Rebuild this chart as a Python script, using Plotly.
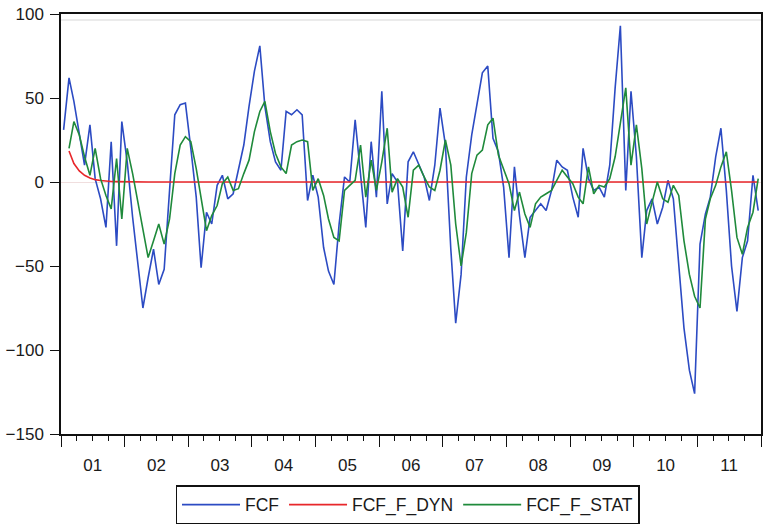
import pandas as pd
import plotly.graph_objects as go

# Monthly observations, 2001M01 - 2011M12
start_month = "2001-01-01"
n_obs = 132

# Actual series
fcf = [
    31, 62, 48, 28, 10, 34, 2, -10, -27, 24, -38, 36,          # 2001
    12, -21, -47, -75, -57, -40, -61, -52, -5, 40, 46, 47,     # 2002
    20, -9, -51, -18, -25, -2, 4, -10, -7, 8, 22, 45,          # 2003
    66, 81, 45, 24, 12, 7, 42, 40, 43, 40, -11, 4,             # 2004
    -9, -39, -53, -61, -25, 3, 0, 37, 5, -27, 24, -9,          # 2005
    54, -13, 5, 0, -41, 12, 18, 10, 3, -11, 10, 44,            # 2006
    22, -40, -84, -55, 3, 28, 46, 65, 69, 26, 18, -3,          # 2007
    -45, 9, -20, -45, -21, -17, -13, -17, -5, 13, 9, 7,        # 2008
    -9, -21, 20, 2, -5, -3, -9, 10, 56, 93, -5, 54,            # 2009
    15, -45, -17, -10, -25, -15, 1, -10, -50, -87, -112, -126,  # 2010
    -37, -19, -9, 15, 32, -5, -50, -77, -45, -35, 4, -17,      # 2011
]

# Dynamic forecast
fcf_f_dyn = [
    None, 18.5, 11.0, 6.6, 4.0, 2.4, 1.4, 0.9, 0.5, 0.3, 0.2, 0.1,
    0.1, 0.0, 0.0, 0.0, 0.0, 0.0, 0.0, 0.0, 0.0, 0.0, 0.0, 0.0,
    0.0, 0.0, 0.0, 0.0, 0.0, 0.0, 0.0, 0.0, 0.0, 0.0, 0.0, 0.0,
    0.0, 0.0, 0.0, 0.0, 0.0, 0.0, 0.0, 0.0, 0.0, 0.0, 0.0, 0.0,
    0.0, 0.0, 0.0, 0.0, 0.0, 0.0, 0.0, 0.0, 0.0, 0.0, 0.0, 0.0,
    0.0, 0.0, 0.0, 0.0, 0.0, 0.0, 0.0, 0.0, 0.0, 0.0, 0.0, 0.0,
    0.0, 0.0, 0.0, 0.0, 0.0, 0.0, 0.0, 0.0, 0.0, 0.0, 0.0, 0.0,
    0.0, 0.0, 0.0, 0.0, 0.0, 0.0, 0.0, 0.0, 0.0, 0.0, 0.0, 0.0,
    0.0, 0.0, 0.0, 0.0, 0.0, 0.0, 0.0, 0.0, 0.0, 0.0, 0.0, 0.0,
    0.0, 0.0, 0.0, 0.0, 0.0, 0.0, 0.0, 0.0, 0.0, 0.0, 0.0, 0.0,
    0.0, 0.0, 0.0, 0.0, 0.0, 0.0, 0.0, 0.0, 0.0, 0.0, 0.0, 0.0,
]

# Static (one-step-ahead) forecast
fcf_f_stat = [
    None, 20, 36, 28, 15, 4, 20, 2, -8, -16, 14, -22,          # 2001
    20, 5, -10, -27, -45, -35, -25, -37, -22, 5, 22, 27,       # 2002
    24, 8, -10, -29, -20, -14, -1, 3, -5, -4, 5, 13,           # 2003
    30, 42, 48, 30, 17, 9, 5, 22, 24, 25, 24, -5,              # 2004
    2, -8, -22, -33, -35, -5, -2, 1, 22, -9, 13, -5,           # 2005
    12, 32, -6, 2, -3, -21, 7, 10, 3, -3, -5, 7,               # 2006
    25, 10, -25, -50, -30, 5, 16, 19, 34, 38, 16, 8,           # 2007
    -1, -17, -6, -19, -27, -13, -9, -7, -5, 1, 7, 3,           # 2008
    -1, -9, -13, 9, -7, -2, -3, 2, 15, 35, 56, 10,             # 2009
    34, 8, -25, -12, 0, -10, -12, -2, -8, -35, -55, -68,       # 2010
    -75, -22, -10, -2, 9, 18, -5, -33, -43, -27, -18, 2,       # 2011
]

y_ticks = [-150, -100, -50, 0, 50, 100]

# Observations sit in the middle of each monthly period
months = pd.date_range(start_month, periods=n_obs, freq="MS") + pd.Timedelta(days=15)

series = [
    ("FCF", fcf, "#2c4bc3"),
    ("FCF_F_DYN", fcf_f_dyn, "#e8272b"),
    ("FCF_F_STAT", fcf_f_stat, "#1f8a3b"),
]

fig = go.Figure()
for name, values, color in series:
    fig.add_trace(go.Scatter(
        x=months, y=values, name=name, mode="lines",
        line=dict(color=color, width=1.6), connectgaps=False,
    ))

font = "Liberation Sans, Arial, sans-serif"

fig.update_layout(
    width=763, height=527,
    margin=dict(l=61, r=2, t=14, b=93, autoexpand=False),
    paper_bgcolor="white", plot_bgcolor="white",
    font=dict(family=font, size=17, color="#1a1a1a"),
    showlegend=True,
    legend=dict(
        orientation="h", x=0.495, xanchor="center", y=-0.122, yanchor="top",
        bordercolor="#111111", borderwidth=1.5, bgcolor="white",
        font=dict(family=font, size=17.5, color="#1a1a1a"),
        itemwidth=58, tracegroupgap=0,
    ),
    xaxis=dict(
        type="date",
        range=["2001-01-01", "2012-01-01"],
        dtick="M12", tick0="2001-01-01",
        tickformat="%y", ticklabelmode="period",
        ticks="outside", ticklen=11, tickwidth=1.2, tickcolor="#111111",
        ticklabelstandoff=4,
        minor=dict(ticks="outside", dtick="M3", ticklen=5, tickcolor="#111111", tickwidth=1),
        showline=True, linecolor="#111111", linewidth=1.5, mirror=True,
        showgrid=False, zeroline=False,
        tickfont=dict(size=17),
    ),
    yaxis=dict(
        range=[-150, 100], tickvals=y_ticks,
        ticks="outside", ticklen=9, tickwidth=1.2, tickcolor="#111111",
        ticklabelstandoff=3,
        showline=True, linecolor="#111111", linewidth=1.5, mirror=True,
        showgrid=False, zeroline=True, zerolinecolor="#f0dede", zerolinewidth=1,
        tickfont=dict(size=17),
    ),
)

# faint inner rule just below the top frame
fig.add_shape(type="line", xref="paper", yref="paper", x0=0, x1=1, y0=0.986, y1=0.986,
              line=dict(color="#e4e4e4", width=1.5), layer="below")

fig.write_html("out.html")
